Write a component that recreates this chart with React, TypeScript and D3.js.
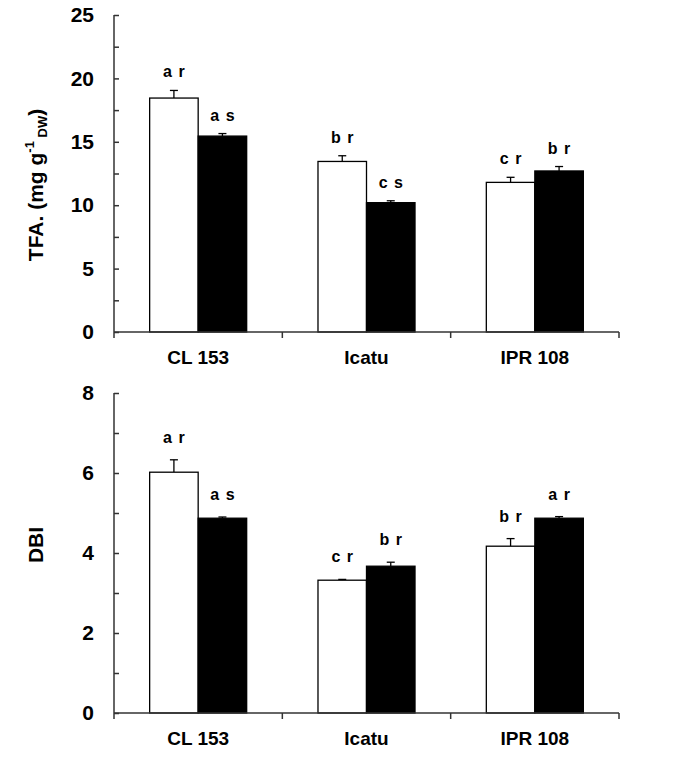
import React, { useEffect, useRef } from 'react'
import * as d3 from 'd3'

const categories = ['CL 153', 'Icatu', 'IPR 108']

// TFA panel
const tfaOpen = [18.45, 13.45, 11.8]
const tfaOpenErr = [0.6, 0.45, 0.4]
const tfaFilled = [15.45, 10.2, 12.7]
const tfaFilledErr = [0.2, 0.15, 0.35]
const tfaOpenLetters = ['a r', 'b r', 'c r']
const tfaFilledLetters = ['a s', 'c s', 'b r']
const tfaTicks = [0, 5, 10, 15, 20, 25]

// DBI panel
const dbiOpen = [6.02, 3.32, 4.17]
const dbiOpenErr = [0.31, 0.02, 0.19]
const dbiFilled = [4.87, 3.67, 4.87]
const dbiFilledErr = [0.03, 0.1, 0.04]
const dbiOpenLetters = ['a r', 'c r', 'b r']
const dbiFilledLetters = ['a s', 'b r', 'a r']
const dbiTicks = [0, 2, 4, 6, 8]

const FONT = '"Liberation Sans", Arial, Helvetica, sans-serif'
const AXIS_COLOR = '#333'

interface PanelProps {
  top: number
  bottom: number
  yMax: number
  ticks: number[]
  minorStep: number
  open: number[]
  openErr: number[]
  filled: number[]
  filledErr: number[]
  openLetters: string[]
  filledLetters: string[]
  letterGap: number
  title: React.ReactNode
  titleY: number
}

const left = 114
const right = 619

function Panel(p: PanelProps) {
  const axisRef = useRef<SVGGElement>(null)
  const minorRef = useRef<SVGGElement>(null)

  const x = d3.scaleBand<string>().domain(categories).range([left, right]).padding(0)
  const xSeries = d3
    .scaleBand<string>()
    .domain(['open', 'filled'])
    .range([0, x.bandwidth()])
    .paddingInner(0)
    .paddingOuter(0.735)
  const y = d3.scaleLinear().domain([0, p.yMax]).range([p.bottom, p.top])

  useEffect(() => {
    if (!axisRef.current || !minorRef.current) return
    const major = d3
      .axisLeft(y)
      .tickValues(p.ticks)
      .tickSize(-5)
      .tickPadding(20)
      .tickFormat(d3.format('d'))
    const g = d3.select(axisRef.current)
    g.selectAll('*').remove()
    g.call(major)
    g.select('.domain').remove()
    g.selectAll('line').attr('stroke', AXIS_COLOR).attr('stroke-width', 1.5)
    g.selectAll('text')
      .attr('font-family', FONT)
      .attr('font-weight', 'bold')
      .attr('font-size', 21)
      .attr('fill', '#000')

    const minorVals = d3.range(0, p.yMax + 0.001, p.minorStep).filter(v => !p.ticks.includes(v))
    const minor = d3.axisLeft(y).tickValues(minorVals).tickSize(-5).tickFormat(() => '')
    const m = d3.select(minorRef.current)
    m.selectAll('*').remove()
    m.call(minor)
    m.select('.domain').remove()
    m.selectAll('line').attr('stroke', AXIS_COLOR).attr('stroke-width', 1.5)
  }, [p.yMax, p.top, p.bottom])

  const bounds = [...categories.map(c => x(c) as number), right]

  const bars = (vals: number[], errs: number[], letters: string[], key: string, fill: string) =>
    categories.map((c, i) => {
      const bx = (x(c) as number) + (xSeries(key) as number)
      const bw = xSeries.bandwidth()
      const cx = bx + bw / 2
      const yTop = y(vals[i])
      const yErr = y(vals[i] + errs[i])
      return (
        <g key={key + c}>
          <line x1={cx} x2={cx} y1={yTop} y2={yErr} stroke="#000" strokeWidth={1.3} />
          <line x1={cx - 4} x2={cx + 4} y1={yErr} y2={yErr} stroke="#000" strokeWidth={1.3} />
          <rect x={bx} y={yTop} width={bw} height={p.bottom - yTop} fill={fill} stroke="#000" strokeWidth={1.3} />
          <text
            x={cx}
            y={yErr - p.letterGap}
            textAnchor="middle"
            fontFamily={FONT}
            fontWeight="bold"
            fontSize={16}
            style={{ wordSpacing: '2px' }}
          >
            {letters[i]}
          </text>
        </g>
      )
    })

  return (
    <g>
      {bars(p.open, p.openErr, p.openLetters, 'open', '#fff')}
      {bars(p.filled, p.filledErr, p.filledLetters, 'filled', '#000')}
      <g ref={minorRef} transform={`translate(${left},0)`} />
      <g ref={axisRef} transform={`translate(${left},0)`} />
      <line x1={left} x2={left} y1={p.top} y2={p.bottom} stroke={AXIS_COLOR} strokeWidth={1.5} />
      <line x1={left} x2={right} y1={p.bottom} y2={p.bottom} stroke={AXIS_COLOR} strokeWidth={1.5} />
      {bounds.map((b, i) => (
        <line key={i} x1={b} x2={b} y1={p.bottom} y2={p.bottom + 6} stroke={AXIS_COLOR} strokeWidth={1.5} />
      ))}
      {categories.map(c => (
        <text
          key={c}
          x={(x(c) as number) + x.bandwidth() / 2}
          y={p.bottom + 32}
          textAnchor="middle"
          fontFamily={FONT}
          fontWeight="bold"
          fontSize={19}
        >
          {c}
        </text>
      ))}
      <text
        transform={`translate(43,${p.titleY}) rotate(-90)`}
        textAnchor="middle"
        fontFamily={FONT}
        fontWeight="bold"
        fontSize={21}
      >
        {p.title}
      </text>
    </g>
  )
}

export default function App() {
  return (
    <svg
      width={683}
      height={758}
      style={{ position: 'absolute', left: 0, top: 0, background: '#fff' }}
    >
      <rect width={683} height={758} fill="#fff" />
      <Panel
        top={15}
        bottom={332}
        yMax={25}
        ticks={tfaTicks}
        minorStep={2.5}
        open={tfaOpen}
        openErr={tfaOpenErr}
        filled={tfaFilled}
        filledErr={tfaFilledErr}
        openLetters={tfaOpenLetters}
        filledLetters={tfaFilledLetters}
        letterGap={13}
        titleY={185}
        title={
          <>
            TFA. (mg g
            <tspan fontSize={13} dy={-9}>-1</tspan>
            <tspan fontSize={13} dy={13}> DW</tspan>
            <tspan dy={-4}>)</tspan>
          </>
        }
      />
      <Panel
        top={393}
        bottom={713}
        yMax={8}
        ticks={dbiTicks}
        minorStep={1}
        open={dbiOpen}
        openErr={dbiOpenErr}
        filled={dbiFilled}
        filledErr={dbiFilledErr}
        openLetters={dbiOpenLetters}
        filledLetters={dbiFilledLetters}
        letterGap={17}
        titleY={545}
        title="DBI"
      />
    </svg>
  )
}
